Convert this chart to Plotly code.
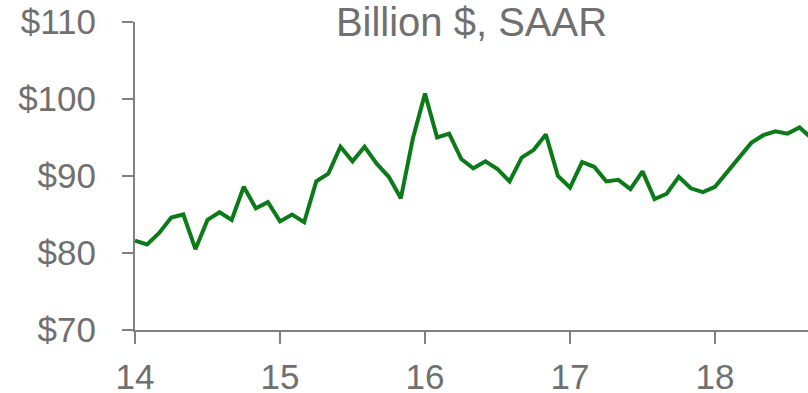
import plotly.graph_objects as go

# Monthly values, billion dollars (SAAR), starting January 2014
start_year = 14
values_2014 = [81.6, 81.1, 82.6, 84.6, 85.0, 80.5, 84.3, 85.3, 84.3, 88.6, 85.8, 86.6]
values_2015 = [84.1, 85.0, 84.0, 89.3, 90.3, 93.8, 91.9, 93.8, 91.6, 89.9, 87.1, 94.9]
values_2016 = [100.7, 95.0, 95.5, 92.2, 91.0, 91.9, 90.9, 89.3, 92.4, 93.4, 95.4, 90.0]
values_2017 = [88.5, 91.8, 91.2, 89.3, 89.5, 88.3, 90.6, 87.0, 87.7, 89.9, 88.4, 87.9]
values_2018 = [88.6, 90.5, 92.4, 94.3, 95.3, 95.8, 95.5, 96.3, 94.9]

year_ticks = [14, 15, 16, 17, 18]
year_labels = ["14", "15", "16", "17", "18"]
y_ticks = [70, 80, 90, 100, 110]
y_labels = ["$70", "$80", "$90", "$100", "$110"]

values = values_2014 + values_2015 + values_2016 + values_2017 + values_2018
months = [start_year + i / 12 for i in range(len(values))]

GRAY = "#707070"
AXIS = "#808080"
FONT = "Liberation Sans, Arial, sans-serif"

fig = go.Figure(
    go.Scatter(
        x=months,
        y=values,
        mode="lines",
        line=dict(color="#0d7a1a", width=4),
        hoverinfo="skip",
    )
)

W, H = 808, 393
L, R, T, B = 135, 0, 22, 63
plot_w = W - L - R
px_per_year = 145.0

fig.update_layout(
    width=W,
    height=H,
    margin=dict(l=L, r=R, t=T, b=B, pad=0, autoexpand=False),
    paper_bgcolor="white",
    plot_bgcolor="white",
    showlegend=False,
    font=dict(family=FONT, color=GRAY, size=35),
    title=dict(
        text="Billion $, SAAR",
        font=dict(family=FONT, color=GRAY, size=40),
        x=0.5,
        xref="paper",
        xanchor="center",
        y=0.98,
        yref="container",
        yanchor="top",
        pad=dict(t=0, b=0),
    ),
    xaxis=dict(
        range=[year_ticks[0], year_ticks[0] + plot_w / px_per_year],
        tickvals=year_ticks,
        ticktext=year_labels,
        automargin=False,
        showgrid=False,
        zeroline=False,
        showline=True,
        linecolor=AXIS,
        linewidth=2,
        ticks="outside",
        ticklen=12,
        tickwidth=2,
        tickcolor=AXIS,
        ticklabelstandoff=3,
        tickfont=dict(family=FONT, color=GRAY, size=35),
    ),
    yaxis=dict(
        range=[70, 110],
        tickvals=y_ticks,
        ticktext=y_labels,
        automargin=False,
        showgrid=False,
        zeroline=False,
        showline=True,
        linecolor=AXIS,
        linewidth=2,
        ticks="outside",
        ticklen=11,
        tickwidth=2,
        tickcolor=AXIS,
        ticklabelstandoff=19,
        tickfont=dict(family=FONT, color=GRAY, size=35),
    ),
)

fig.write_html("out.html")
